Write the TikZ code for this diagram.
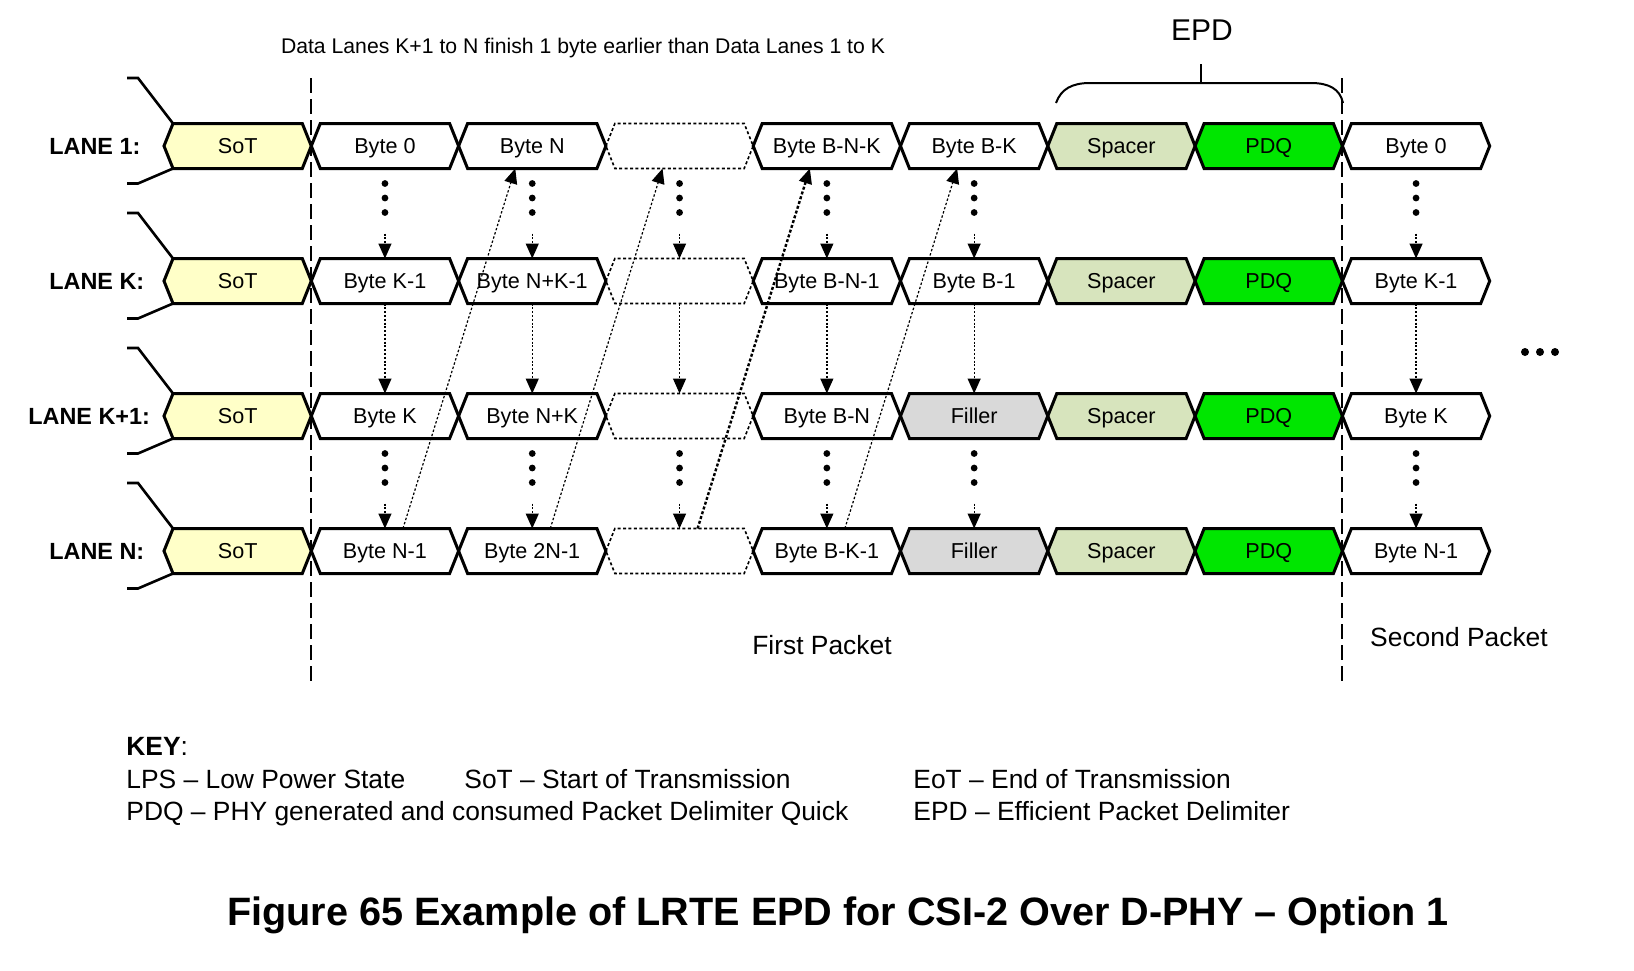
\documentclass[tikz,border=0pt]{standalone}
\usepackage{fontspec}
\setmainfont{Liberation Sans}
\usetikzlibrary{calc,arrows.meta}
\pgfdeclarelayer{bg}
\pgfsetlayers{bg,main}
\definecolor{sotY}{RGB}{255,255,200}
\definecolor{spcG}{RGB}{215,228,189}
\definecolor{pdqG}{RGB}{0,230,0}
\definecolor{filG}{RGB}{217,217,217}
\tikzset{
  bx/.style={minimum width=73.65pt,minimum height=22.5pt,inner sep=0pt,outer sep=0pt,text height=7.7pt,text depth=0pt,font=\fontsize{10.8}{13}\selectfont},
  hex/.style={insert path={(#1.west) -- ($(#1.north west)+(9,0)$) -- ($(#1.north east)+(-9,0)$) -- (#1.east) -- ($(#1.south east)+(-9,0)$) -- ($(#1.south west)+(9,0)$) -- cycle}},
  solidbox/.style={line width=1.5pt},
  dotbox/.style={line width=0.8pt,dash pattern=on 1.5pt off 1.2pt},
  vconn/.style={line width=0.65pt,dash pattern=on 1pt off 0.9pt,-{Triangle[length=7.5pt,width=6.5pt]}},
  diag/.style={line width=0.6pt,dash pattern=on 1.2pt off 1pt,-{Triangle[length=7.5pt,width=6.5pt]}},
  lead/.style={line width=1.3pt},
  lanelbl/.style={font=\bfseries\fontsize{11.7}{14}\selectfont,anchor=west,inner sep=0pt,text height=8.4pt,text depth=0pt},
  sepline/.style={line width=1pt,dash pattern=on 7.5pt off 3pt},
  keytxt/.style={font=\fontsize{13.2}{16}\selectfont,anchor=base west,inner sep=0pt},
  dotdot/.style={fill=black},
}
\begin{document}
\begin{tikzpicture}[x=0.5pt,y=-0.5pt]
\useasboundingbox (0,0) rectangle (1634,970);
\begin{pgfonlayer}{bg}
\fill[white] (0,0) rectangle (1634,970);
\end{pgfonlayer}

% boxes (nodes)
\foreach \t [count=\k from 0] in {SoT,Byte 0,Byte N,{},Byte B-N-K,Byte B-K,Spacer,PDQ,Byte 0}
  \node[bx] (a\k) at ({237.65+147.3*\k},146) {\t};
\foreach \t [count=\k from 0] in {SoT,Byte K-1,Byte N+K-1,{},Byte B-N-1,Byte B-1,Spacer,PDQ,Byte K-1}
  \node[bx] (b\k) at ({237.65+147.3*\k},281) {\t};
\foreach \t [count=\k from 0] in {SoT,Byte K,Byte N+K,{},Byte B-N,Filler,Spacer,PDQ,Byte K}
  \node[bx] (c\k) at ({237.65+147.3*\k},416) {\t};
\foreach \t [count=\k from 0] in {SoT,Byte N-1,Byte 2N-1,{},Byte B-K-1,Filler,Spacer,PDQ,Byte N-1}
  \node[bx] (d\k) at ({237.65+147.3*\k},551) {\t};

% fills
\begin{pgfonlayer}{bg}
\foreach \r in {a,b,c,d} {
  \fill[sotY,hex=\r0];
  \fill[spcG,hex=\r6];
  \fill[pdqG,hex=\r7];
}
\fill[filG,hex=c5];
\fill[filG,hex=d5];
\end{pgfonlayer}

% outlines
\foreach \r in {a,b,c,d} {
  \foreach \k in {0,1,2,4,5,6,7,8} \draw[solidbox,hex=\r\k];
  \draw[dotbox,hex=\r3];
}

% lane labels
\node[lanelbl] (l1) at (49,146) {LANE 1:};
\node[lanelbl] (l2) at (49,281) {LANE K:};
\node[lanelbl] (l3) at (28,416) {LANE K+1:};
\node[lanelbl] (l4) at (49,551) {LANE N:};

% lead-in lines
\foreach \r/\yy in {a/146,b/281,c/416,d/551} {
  \coordinate (\r ta) at (127,\yy-68);
  \coordinate (\r tb) at (138,\yy-68);
  \coordinate (\r ba) at (127,\yy+37.5);
  \coordinate (\r bb) at (138,\yy+37.5);
  \draw[lead] (\r ta) -- (\r tb) -- ($(\r0.north west)+(9,0)$);
  \draw[lead] (\r ba) -- (\r bb) -- ($(\r0.south west)+(9,0)$);
}

% packet separators
\coordinate (s1t) at (311.3,78);
\coordinate (s1b) at (311.3,683);
\coordinate (s2t) at (1342.4,78);
\coordinate (s2b) at (1342.4,683);
\draw[sepline] (s1t) -- (s1b);
\draw[sepline] (s2t) -- (s2b);

% vertical connectors
\foreach \k in {1,2,3,4,5,8} {
  \foreach \s in {15,29.5,44} {
    \fill[dotdot] ($(a\k.south)+(0,\s)$) circle (1.7pt);
    \fill[dotdot] ($(c\k.south)+(0,\s)$) circle (1.7pt);
  }
  \draw[vconn] ($(a\k.south)+(0,65)$) -- (b\k.north);
  \draw[vconn] (b\k.south) -- (c\k.north);
  \draw[vconn] ($(c\k.south)+(0,65)$) -- (d\k.north);
}

% diagonal connectors
\foreach \k/\n in {1/2,2/3,4/5}
  \draw[diag] ($(d\k.north)+(18,0)$) -- ($(a\n.south)+(-17,0)$);
\draw[diag,line width=1.2pt,dash pattern=on 1.5pt off 1pt] ($(d3.north)+(18,0)$) -- ($(a4.south)+(-17,0)$);

% EPD brace
\node[font=\fontsize{15}{18}\selectfont,inner sep=0pt] (epd) at (1202,30) {EPD};
\coordinate (brL) at (1056,103);
\coordinate (brR) at (1343,103);
\coordinate (brM) at (1201,83);
\coordinate (brT) at (1201,64);
\draw[line width=1pt] (brL) .. controls (1061,89) and (1072,83) .. (1090,83) -- (1311,83) .. controls (1329,83) and (1340,89) .. (brR);
\draw[line width=1pt] (brM) -- (brT);

% texts
\node[font=\fontsize{10.6}{13}\selectfont,inner sep=0pt] (note) at (583,48) {Data Lanes K+1 to N finish 1 byte earlier than Data Lanes 1 to K};
\node[font=\fontsize{13.2}{16}\selectfont,inner sep=0pt] (fp) at (822,645) {First Packet};
\node[font=\fontsize{13.2}{16}\selectfont,inner sep=0pt] (sp) at (1459,637) {Second Packet};

% ellipsis
\fill[dotdot] (1525,352) circle (2pt);
\fill[dotdot] (1540,352) circle (2pt);
\fill[dotdot] (1555,352) circle (2pt);

% key
\node[keytxt] (key) at (126,755.5) {\textbf{KEY}:};
\node[keytxt] (k1) at (126,788.5) {LPS – Low Power State};
\node[keytxt] (k2) at (464,788.5) {SoT – Start of Transmission};
\node[keytxt] (k3) at (913,788.5) {EoT – End of Transmission};
\node[keytxt] (k4) at (126,820.5) {PDQ – PHY generated and consumed Packet Delimiter Quick};
\node[keytxt] (k5) at (913,820.5) {EPD – Efficient Packet Delimiter};

% caption
\node[font=\bfseries\fontsize{19.8}{24}\selectfont,inner sep=0pt] (title) at (838,915) {Figure 65 Example of LRTE EPD for CSI-2 Over D-PHY – Option 1};
\end{tikzpicture}
\end{document}
